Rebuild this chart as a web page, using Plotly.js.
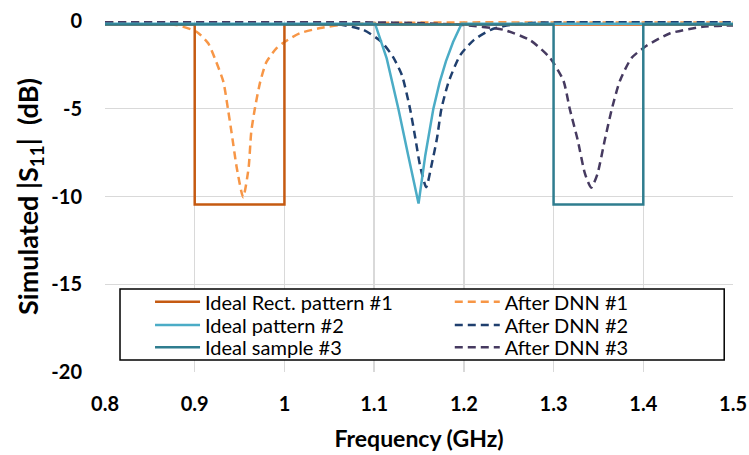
<!DOCTYPE html>
<html>
<head>
<meta charset="utf-8">
<script src="https://cdn.plot.ly/plotly-3.0.1.min.js"></script>
<style>html,body{margin:0;padding:0;background:#fff;}#chart{width:749px;height:455px;}</style>
</head>
<body>
<div id="chart"></div>
<script>
// Ideal rectangular pattern #1
const rect1X = [0.8, 0.9, 0.9, 1.0, 1.0, 1.5];
const rect1Y = [-0.2, -0.2, -10.45, -10.45, -0.2, -0.2];
// Ideal pattern #2
const ideal2X = [0.8, 1.101, 1.114, 1.127, 1.138, 1.1495, 1.157, 1.166, 1.173, 1.18, 1.188, 1.1975, 1.5];
const ideal2Y = [-0.15, -0.15, -2.13, -5, -7.66, -10.4, -7.66, -5, -3.5, -2.3, -1.2, -0.15, -0.15];
// Ideal sample #3
const ideal3X = [0.8, 1.3, 1.3, 1.4, 1.4, 1.5];
const ideal3Y = [-0.2, -0.2, -10.45, -10.45, -0.2, -0.2];
// After DNN #1
const dnn1X = [0.8, 0.85, 0.88, 0.902, 0.915, 0.924, 0.932, 0.937, 0.941, 0.947, 0.954, 0.96, 0.963, 0.967, 0.973, 0.98, 0.991, 1.0005, 1.017, 1.04, 1.062, 1.1, 1.2, 1.3, 1.4, 1.5];
const dnn1Y = [-0.08, -0.12, -0.23, -0.61, -1.27, -2.33, -3.47, -5, -6.33, -8.4, -10.04, -8.4, -6.33, -5, -3.47, -2.33, -1.56, -1.18, -0.7, -0.4, -0.23, -0.12, -0.08, -0.08, -0.08, -0.08];
// After DNN #2
const dnn2X = [0.8, 1.0, 1.054, 1.088, 1.108, 1.121, 1.131, 1.14, 1.146, 1.151, 1.158, 1.164, 1.17, 1.175, 1.183, 1.196, 1.211, 1.23, 1.251, 1.281, 1.5];
const dnn2Y = [-0.05, -0.08, -0.13, -0.51, -1.18, -2.04, -3.09, -5, -6.7, -8.2, -9.47, -8.2, -6.7, -5, -3.47, -1.94, -1.09, -0.5, -0.23, -0.1, -0.05];
// After DNN #3
const dnn3X = [0.8, 1.1, 1.15, 1.199, 1.244, 1.274, 1.296, 1.311, 1.318, 1.327, 1.335, 1.342, 1.349, 1.357, 1.365, 1.374, 1.387, 1.404, 1.43, 1.466, 1.5];
const dnn3Y = [-0.05, -0.08, -0.12, -0.23, -0.5, -1.1, -2.1, -3.4, -5, -6.8, -8.7, -9.5, -8.7, -6.8, -5, -3.4, -2.1, -1.4, -0.7, -0.33, -0.25];

const xTicks = [0.8, 0.9, 1.0, 1.1, 1.2, 1.3, 1.4, 1.5];
const xTickText = ['0.8', '0.9', '1', '1.1', '1.2', '1.3', '1.4', '1.5'];
const yTicks = [-20, -15, -10, -5, 0];
const yTickText = ['-20', '-15', '-10', '-5', '0'];

const dash = '8px,5px';
const traces = [
  {x: dnn1X, y: dnn1Y, name: 'After DNN #1', legend: 'legend2', line: {color: '#F79646', width: 2.5, dash: dash, shape: 'spline', smoothing: 0.6}},
  {x: dnn2X, y: dnn2Y, name: 'After DNN #2', legend: 'legend4', line: {color: '#1F3F6E', width: 2.5, dash: dash, shape: 'spline', smoothing: 0.6}},
  {x: dnn3X, y: dnn3Y, name: 'After DNN #3', legend: 'legend6', line: {color: '#463A60', width: 2.5, dash: dash, shape: 'spline', smoothing: 0.6}},
  {x: rect1X, y: rect1Y, name: 'Ideal Rect. pattern #1', legend: 'legend', line: {color: '#C55A11', width: 2.5}},
  {x: ideal2X, y: ideal2Y, name: 'Ideal pattern #2', legend: 'legend3', line: {color: '#4BACC6', width: 2.5}},
  {x: ideal3X, y: ideal3Y, name: 'Ideal sample #3', legend: 'legend5', line: {color: '#2F7D8F', width: 2.5}}
].map(t => Object.assign({type: 'scatter', mode: 'lines'}, t));

function itemLegend(xl, yc) {
  return {
    orientation: 'v', xref: 'paper', x: xl, xanchor: 'left',
    yref: 'paper', y: yc, yanchor: 'middle',
    bgcolor: 'rgba(0,0,0,0)', borderwidth: 0, itemwidth: 45,
    font: {size: 20, family: 'Lato', color: '#000'}
  };
}
const col1 = 0.0717, col2 = 0.549;
const row1 = 0.2003, row2 = 0.1339, row3 = 0.0704;

const layout = {
  width: 749, height: 455,
  margin: {l: 105, r: 16, t: 21, b: 83},
  paper_bgcolor: '#ffffff', plot_bgcolor: '#ffffff',
  font: {family: 'Lato, "Open Sans", sans-serif', color: '#000'},
  xaxis: {
    range: [0.8, 1.5], tickvals: xTicks, ticktext: xTickText, automargin: false,
    showgrid: true, gridcolor: '#D9D9D9', gridwidth: 1.3,
    zeroline: false, showline: false, ticks: '', ticklabelstandoff: 18,
    tickfont: {size: 20, family: 'Lato', weight: 'bold'},
    title: {text: 'Frequency (GHz)', font: {size: 23, family: 'Lato', weight: 'bold'}, standoff: 16}
  },
  yaxis: {
    range: [-20, 0], tickvals: yTicks, ticktext: yTickText, automargin: false,
    showgrid: true, gridcolor: '#D9D9D9', gridwidth: 1.3,
    zeroline: false, showline: false, ticks: '', ticklabelstandoff: 22,
    tickfont: {size: 20, family: 'Lato', weight: 'bold'},
    title: {text: 'Simulated |S<sub>11</sub>|  (dB)', font: {size: 27, family: 'Lato', weight: 'bold'}, standoff: 4}
  },
  showlegend: true,
  legend: itemLegend(col1, row1),
  legend2: itemLegend(col2, row1),
  legend3: itemLegend(col1, row2),
  legend4: itemLegend(col2, row2),
  legend5: itemLegend(col1, row3),
  legend6: itemLegend(col2, row3),
  shapes: [{
    type: 'rect', xref: 'paper', yref: 'paper',
    x0: 0.0239, x1: 0.986, y0: 0.034, y1: 0.2365,
    line: {color: '#000', width: 1.5}, fillcolor: '#ffffff', layer: 'above'
  }]
};

Plotly.newPlot('chart', traces, layout, {displayModeBar: false, staticPlot: true});
</script>
</body>
</html>
